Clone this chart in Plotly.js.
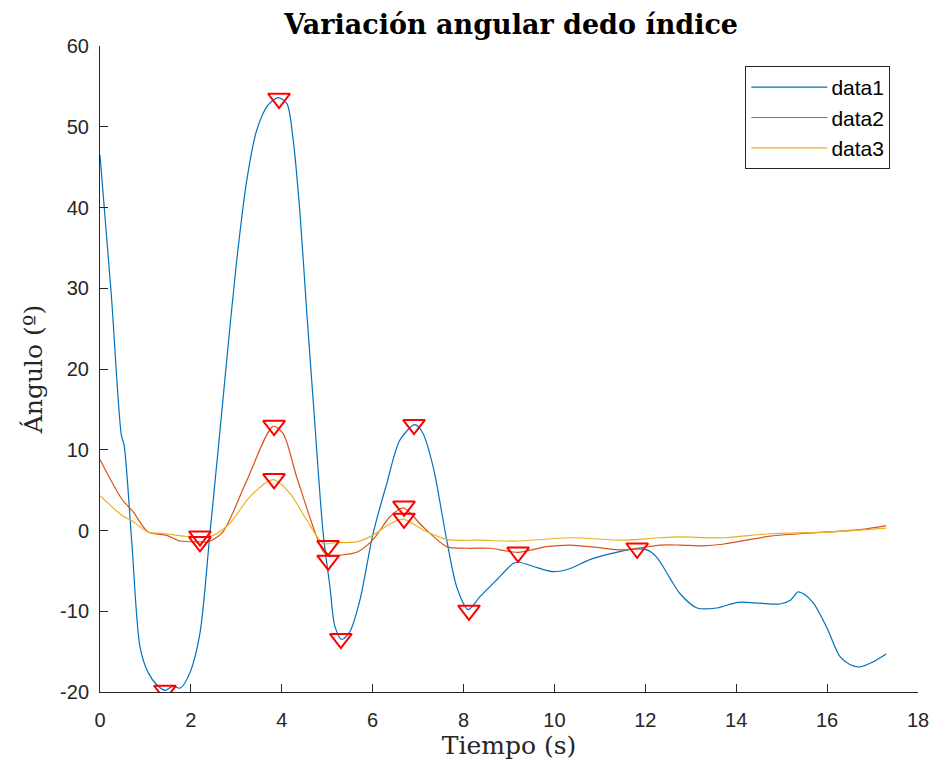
<!DOCTYPE html>
<html>
<head>
<meta charset="utf-8">
<script src="https://cdn.plot.ly/plotly-3.0.1.min.js"></script>
<style>
  html, body { margin: 0; padding: 0; background: #fff; }
  #chart { width: 938px; height: 767px; }
</style>
</head>
<body>
<div id="chart"></div>
<script>
// Index finger angle over time, three signals
const t1 = [0, 0.25, 0.47, 0.53, 0.7, 0.88, 1.06, 1.25, 1.43, 1.6, 1.77, 1.98, 2.2, 2.42, 2.6, 2.77, 3.0, 3.23,
  3.45, 3.7, 3.92, 4.11, 4.25, 4.4, 4.55, 4.69, 4.91, 5.06, 5.17, 5.32, 5.5, 5.72, 6.01, 6.31, 6.6, 6.93, 7.1,
  7.33, 7.63, 7.85, 8.1, 8.36, 8.73, 9.09, 9.2, 9.62, 9.97, 10.35, 10.78, 11.29, 11.73, 12.03, 12.25, 12.54,
  12.76, 13.14, 13.57, 14.04, 14.52, 14.96, 15.2, 15.36, 15.5, 15.7, 16.0, 16.28, 16.5, 16.72, 17.0, 17.3];
const data1 = [46.5, 29.1, 11.8, 10.6, -1.5, -14.4, -17.6, -19.1, -19.8, -19.3, -19.5, -17.6, -12.7, -0.3, 10.0,
  20.0, 33.0, 43.4, 49.6, 52.7, 53.6, 52.9, 48.4, 39.3, 27.0, 16.2, -0.3, -7.0, -11.9, -13.5, -12.5, -8.6, -0.35,
  5.8, 11.2, 13.1, 12.1, 7.9, -1.2, -7.0, -9.8, -8.2, -6.1, -4.1, -3.9, -4.6, -5.1, -4.7, -3.6, -2.8, -2.3, -2.4,
  -3.3, -5.9, -7.8, -9.6, -9.6, -8.9, -9.0, -9.1, -8.6, -7.6, -7.9, -9.0, -12.1, -15.6, -16.6, -16.9, -16.3, -15.3];

const t2 = [0, 0.48, 0.73, 1.06, 1.47, 1.76, 2.2, 2.38, 2.7, 3.23, 3.81, 4.03, 4.33, 4.91, 5.05, 5.35, 5.65, 6.0,
  6.38, 6.67, 7.1, 7.63, 8.07, 8.58, 9.2, 9.83, 10.35, 10.93, 11.5, 11.95, 12.32, 12.76, 13.27, 13.7, 14.74,
  15.4, 16.72, 17.3];
const data2 = [8.8, 3.9, 2.3, -0.2, -0.6, -1.3, -1.4, -1.4, -0.2, 6.2, 12.9, 12.0, 6.6, -2.6, -3.2, -3.0, -2.7,
  -1.2, 1.7, 2.8, 0.5, -2.0, -2.2, -2.2, -2.7, -2.0, -1.8, -2.1, -2.4, -2.1, -1.8, -1.8, -1.9, -1.7, -0.7, -0.4,
  0.1, 0.6];

const t3 = [0, 0.48, 0.73, 1.06, 1.47, 1.83, 2.2, 2.49, 2.86, 3.3, 3.81, 4.18, 4.55, 4.91, 5.2, 5.65, 6.0, 6.38,
  6.67, 7.1, 7.63, 8.36, 9.2, 10.35, 11.5, 12.32, 12.76, 13.7, 14.74, 16.0, 17.3];
const data3 = [4.3, 1.9, 1.1, -0.2, -0.4, -0.7, -0.8, -0.6, 0.9, 4.2, 6.3, 4.6, 1.3, -1.6, -1.5, -1.4, -0.6, 0.8,
  1.4, 0.1, -1.1, -1.2, -1.3, -0.9, -1.2, -0.9, -0.8, -0.9, -0.4, -0.2, 0.3];

// Detected peaks (plotted as open down-triangles)
const peakT = [1.43, 3.94, 5.3, 6.91, 8.12, 9.2, 11.82, 2.2, 3.83, 5.02, 6.69, 2.2, 3.83, 5.02, 6.69];
const peakY = [-19.8, 53.5, -13.4, 13.1, -9.9, -2.7, -2.2, -1.4, 13.0, -3.7, 3.0, -0.7, 6.4, -1.9, 1.5];

const xTicks = [0, 2, 4, 6, 8, 10, 12, 14, 16, 18];
const yTicks = [-20, -10, 0, 10, 20, 30, 40, 50, 60];

const lineStyle = (c) => ({ color: c, width: 1.2, shape: 'spline', smoothing: 0.8 });

const traces = [
  { x: t1, y: data1, name: 'data1', mode: 'lines', line: lineStyle('#0072BD') },
  { x: t2, y: data2, name: 'data2', mode: 'lines', line: lineStyle('#D95319') },
  { x: t3, y: data3, name: 'data3', mode: 'lines', line: lineStyle('#EDB120') },
  { x: peakT, y: peakY, mode: 'markers', showlegend: false, hoverinfo: 'skip',
    marker: { symbol: 'triangle-down-open', size: 19, color: '#FF0000', line: { width: 2, color: '#FF0000' } } }
];

const axisCommon = {
  showgrid: false, zeroline: false, showline: true, linecolor: '#262626', linewidth: 1,
  ticks: 'inside', ticklen: 8, tickwidth: 1, tickcolor: '#262626', mirror: false,
  tickfont: { family: 'Liberation Sans, Arial, sans-serif', size: 20, color: '#262626' }
};

const layout = {
  width: 938, height: 767,
  margin: { l: 100, r: 20, t: 46, b: 75 },
  paper_bgcolor: '#fff', plot_bgcolor: '#fff',
  title: {
    text: '<b>Variación angular dedo índice</b>',
    font: { family: 'DejaVu Serif, serif', size: 27, color: '#000' },
    x: 0.545, xanchor: 'center', y: 0.968, yanchor: 'middle'
  },
  xaxis: Object.assign({}, axisCommon, {
    range: [0, 18], tickvals: xTicks, ticktext: xTicks.map(String), ticklabelstandoff: 10,
    title: { text: 'Tiempo (s)', font: { family: 'DejaVu Serif, serif', size: 25, color: '#262626' }, standoff: 6 }
  }),
  yaxis: Object.assign({}, axisCommon, {
    range: [-20, 60], tickvals: yTicks, ticktext: yTicks.map(String), ticklabelstandoff: 6,
    title: { text: 'Ángulo (º)', font: { family: 'DejaVu Serif, serif', size: 25, color: '#262626' }, standoff: 10 }
  }),
  legend: {
    x: 0.789, y: 0.969, xanchor: 'left', yanchor: 'top',
    bgcolor: '#fff', bordercolor: '#262626', borderwidth: 1,
    font: { family: 'Liberation Sans, Arial, sans-serif', size: 21, color: '#000' },
    itemwidth: 75, tracegroupgap: 0
  },
  showlegend: true
};

Plotly.newPlot('chart', traces, layout, { displayModeBar: false, staticPlot: true }).then(() => {
  // stretch the legend line samples across the item width
  document.querySelectorAll('.legendlines path').forEach(p => p.setAttribute('d', 'M5,0h76'));
});
</script>
</body>
</html>
